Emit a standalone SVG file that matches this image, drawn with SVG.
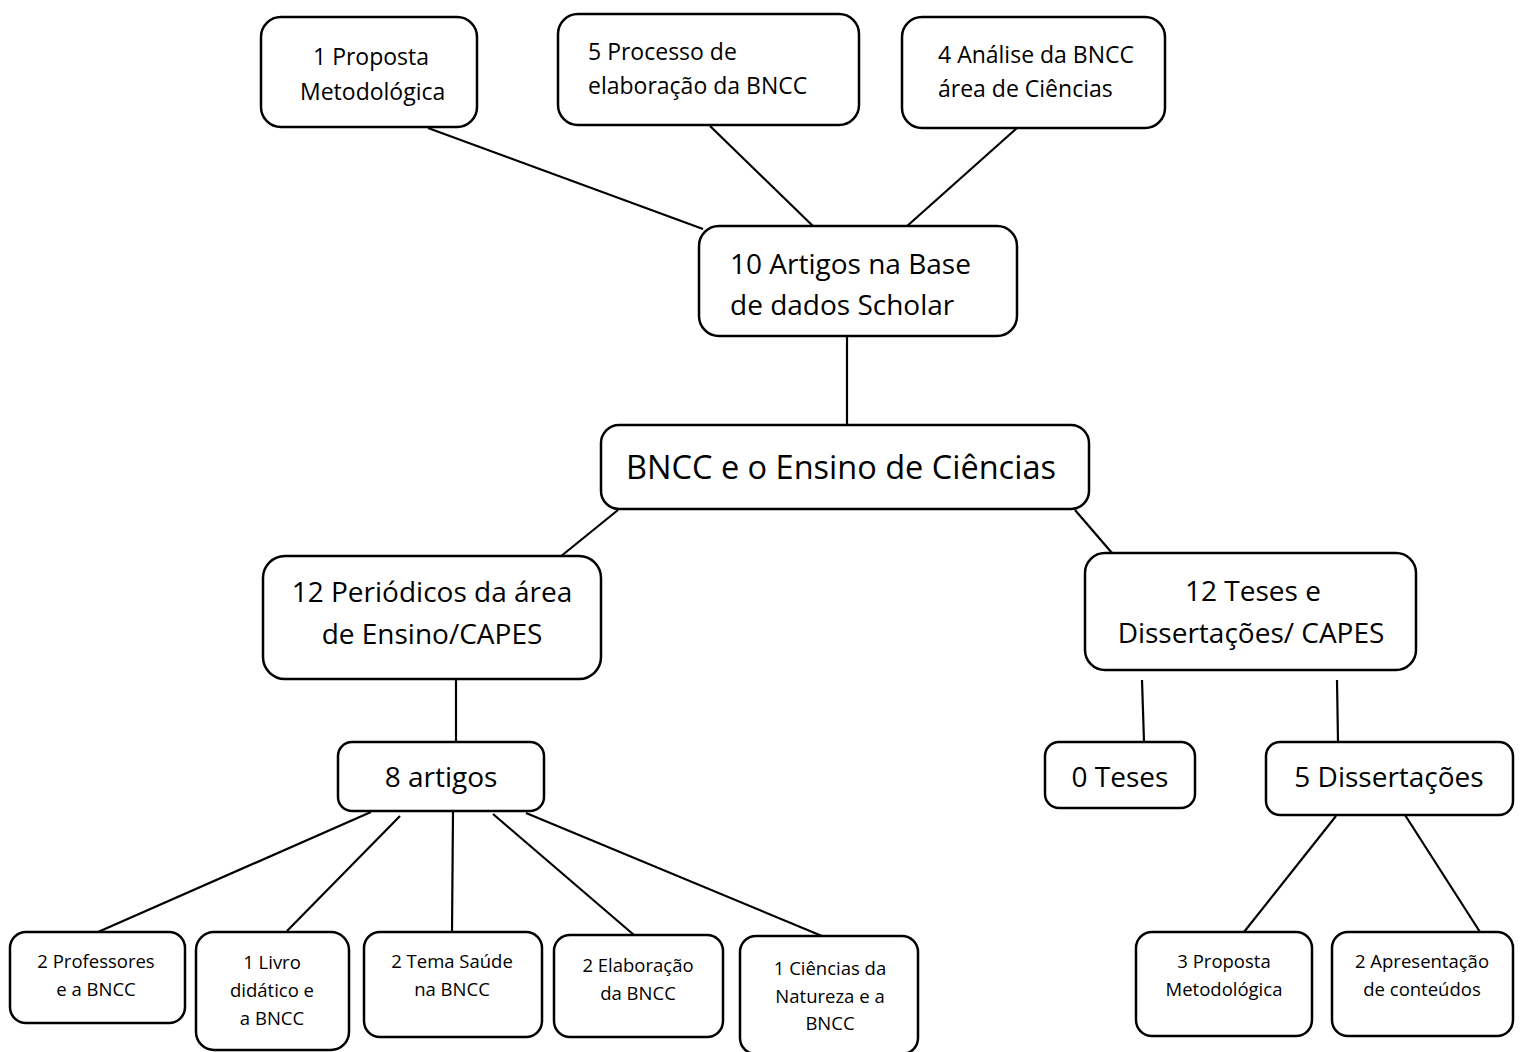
<svg xmlns="http://www.w3.org/2000/svg" width="1520" height="1052" viewBox="0 0 1520 1052">
  <style>
    .box { fill: #ffffff; stroke: #000000; stroke-width: 2.5; }
    .link { stroke: #000000; stroke-width: 2.2; fill: none; }
    text { font-family: "Open Sans", "Liberation Sans", sans-serif; fill: #000000; }
    .s22 { font-size: 23px; }
    .s27 { font-size: 28px; }
    .s33 { font-size: 32.5px; }
    .s17 { font-size: 18.5px; }
    .mid { text-anchor: middle; }
  </style>
  <rect width="1520" height="1052" fill="#ffffff"/>

  <g id="connectors">
    <line class="link" x1="428" y1="128" x2="703" y2="229"/>
    <line class="link" x1="710" y1="126" x2="815" y2="228"/>
    <line class="link" x1="1017" y1="128" x2="906" y2="227"/>
    <line class="link" x1="847" y1="337" x2="847" y2="425"/>
    <line class="link" x1="618" y1="510" x2="560" y2="557"/>
    <line class="link" x1="1075" y1="510" x2="1112" y2="553"/>
    <line class="link" x1="456" y1="680" x2="456" y2="742"/>
    <line class="link" x1="1142" y1="680" x2="1144" y2="742"/>
    <line class="link" x1="1337" y1="680" x2="1338" y2="742"/>
    <line class="link" x1="371" y1="812" x2="98" y2="932"/>
    <line class="link" x1="400" y1="816" x2="287" y2="931"/>
    <line class="link" x1="453" y1="812" x2="452" y2="932"/>
    <line class="link" x1="493" y1="814" x2="634" y2="935"/>
    <line class="link" x1="526" y1="813" x2="822" y2="936"/>
    <line class="link" x1="1336" y1="816" x2="1244" y2="932"/>
    <line class="link" x1="1405" y1="815" x2="1480" y2="932"/>
  </g>

  <g id="proposta-metodologica">
    <rect class="box" x="261" y="17" width="216" height="110" rx="20"/>
    <text class="s22" x="313" y="65">1 Proposta</text>
    <text class="s22" x="300" y="100">Metodológica</text>
  </g>

  <g id="processo-elaboracao">
    <rect class="box" x="558" y="14" width="301" height="111" rx="20"/>
    <text class="s22" x="588" y="60">5 Processo de</text>
    <text class="s22" x="588" y="94">elaboração da BNCC</text>
  </g>

  <g id="analise-bncc">
    <rect class="box" x="902" y="17" width="263" height="111" rx="20"/>
    <text class="s22" x="938" y="63">4 Análise da BNCC</text>
    <text class="s22" x="938" y="97">área de Ciências</text>
  </g>

  <g id="artigos-scholar">
    <rect class="box" x="699" y="226" width="318" height="110" rx="20"/>
    <text class="s27" x="730" y="274">10 Artigos na Base</text>
    <text class="s27" x="730" y="315">de dados Scholar</text>
  </g>

  <g id="bncc-ensino">
    <rect class="box" x="601" y="425" width="488" height="84" rx="18"/>
    <text class="s33 mid" x="841" y="479">BNCC e o Ensino de Ciências</text>
  </g>

  <g id="periodicos">
    <rect class="box" x="263" y="556" width="338" height="123" rx="22"/>
    <text class="s27 mid" x="432" y="602">12 Periódicos da área</text>
    <text class="s27 mid" x="432" y="644">de Ensino/CAPES</text>
  </g>

  <g id="teses-dissertacoes">
    <rect class="box" x="1085" y="553" width="331" height="117" rx="20"/>
    <text class="s27 mid" x="1253" y="601">12 Teses e</text>
    <text class="s27 mid" x="1251" y="643">Dissertações/ CAPES</text>
  </g>

  <g id="oito-artigos">
    <rect class="box" x="338" y="742" width="206" height="69" rx="14"/>
    <text class="s27 mid" x="441" y="787">8 artigos</text>
  </g>

  <g id="zero-teses">
    <rect class="box" x="1045" y="742" width="150" height="66" rx="14"/>
    <text class="s27 mid" x="1120" y="787">0 Teses</text>
  </g>

  <g id="cinco-dissertacoes">
    <rect class="box" x="1266" y="742" width="247" height="73" rx="14"/>
    <text class="s27 mid" x="1389" y="787">5 Dissertações</text>
  </g>

  <g id="professores">
    <rect class="box" x="10" y="932" width="175" height="91" rx="16"/>
    <text class="s17 mid" x="96" y="968">2 Professores</text>
    <text class="s17 mid" x="96" y="996">e a BNCC</text>
  </g>

  <g id="livro-didatico">
    <rect class="box" x="196" y="932" width="153" height="118" rx="18"/>
    <text class="s17 mid" x="272" y="969">1 Livro</text>
    <text class="s17 mid" x="272" y="997">didático e</text>
    <text class="s17 mid" x="272" y="1025">a BNCC</text>
  </g>

  <g id="tema-saude">
    <rect class="box" x="364" y="932" width="178" height="105" rx="16"/>
    <text class="s17 mid" x="452" y="968">2 Tema Saúde</text>
    <text class="s17 mid" x="452" y="996">na BNCC</text>
  </g>

  <g id="elaboracao">
    <rect class="box" x="554" y="935" width="169" height="102" rx="16"/>
    <text class="s17 mid" x="638" y="972">2 Elaboração</text>
    <text class="s17 mid" x="638" y="1000">da BNCC</text>
  </g>

  <g id="ciencias-natureza">
    <rect class="box" x="740" y="936" width="178" height="118" rx="16"/>
    <text class="s17 mid" x="830" y="975">1 Ciências da</text>
    <text class="s17 mid" x="830" y="1003">Natureza e a</text>
    <text class="s17 mid" x="830" y="1030">BNCC</text>
  </g>

  <g id="proposta-metodologica-3">
    <rect class="box" x="1136" y="932" width="176" height="104" rx="16"/>
    <text class="s17 mid" x="1224" y="968">3 Proposta</text>
    <text class="s17 mid" x="1224" y="996">Metodológica</text>
  </g>

  <g id="apresentacao-conteudos">
    <rect class="box" x="1332" y="932" width="181" height="104" rx="16"/>
    <text class="s17 mid" x="1422" y="968">2 Apresentação</text>
    <text class="s17 mid" x="1422" y="996">de conteúdos</text>
  </g>
</svg>
